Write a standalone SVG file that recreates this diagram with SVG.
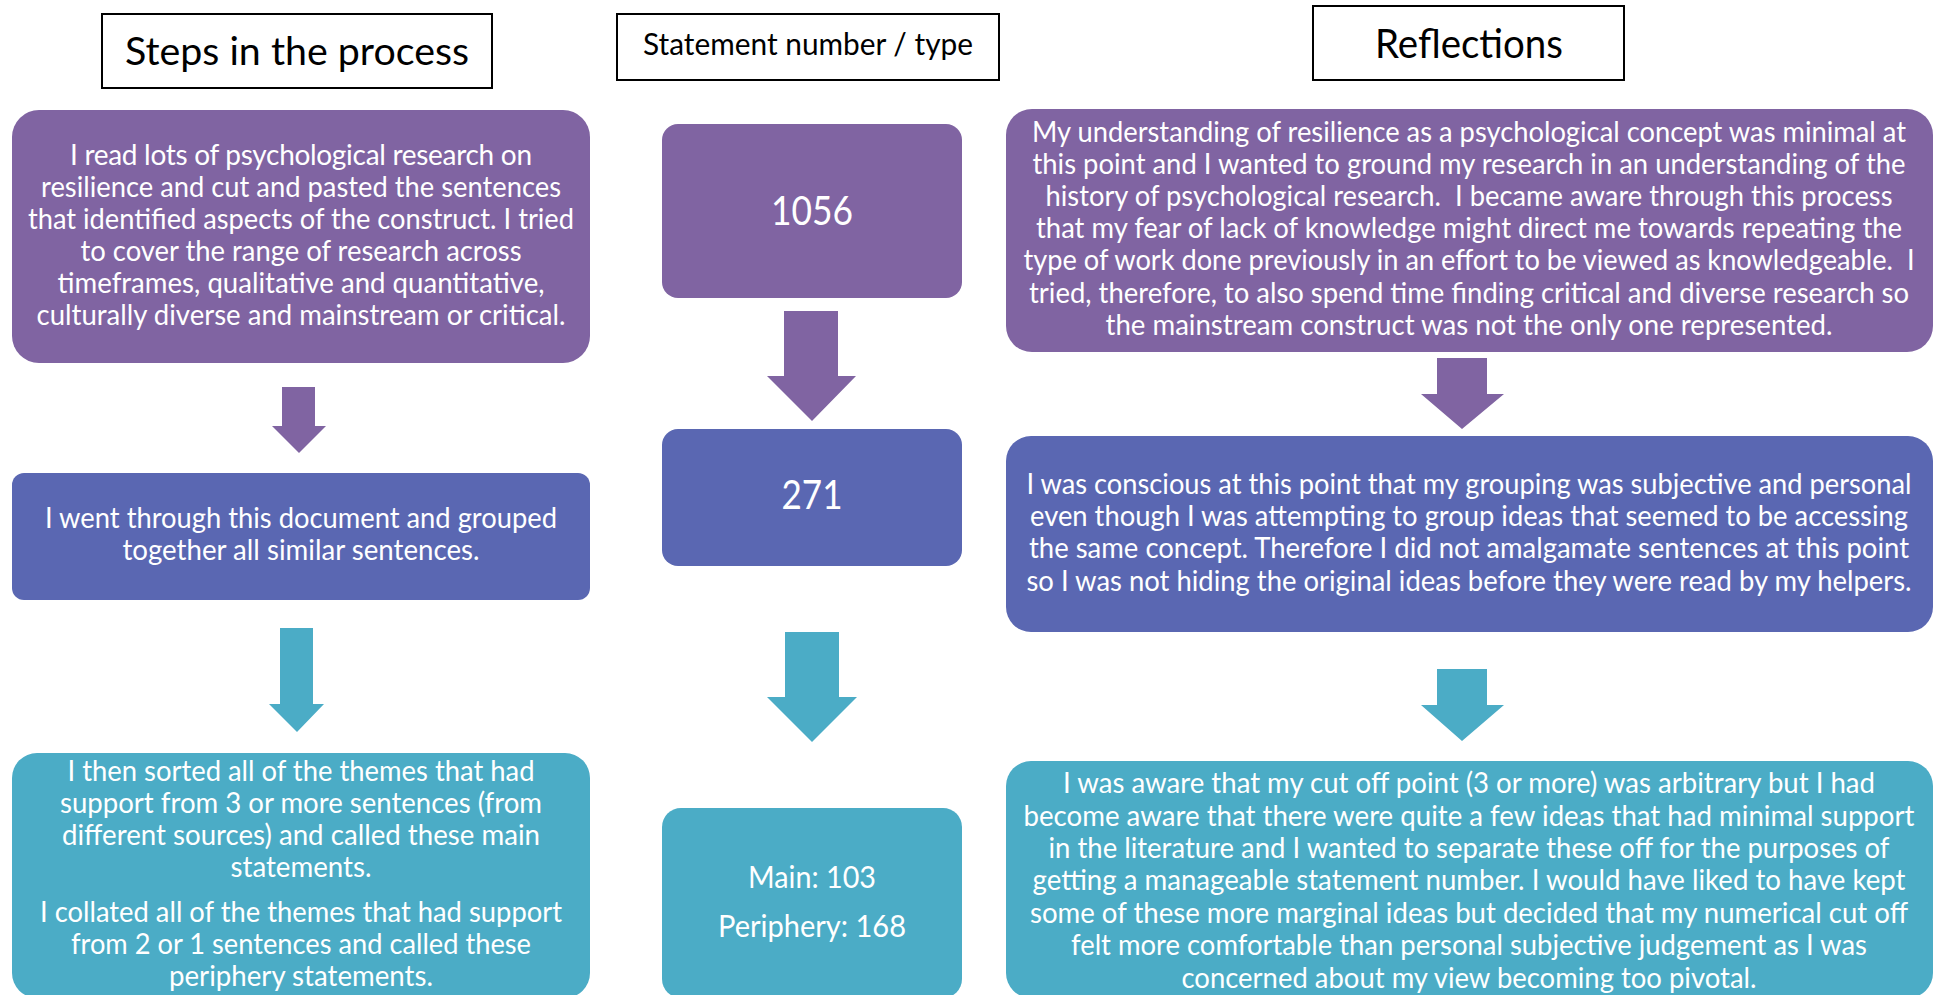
<svg xmlns="http://www.w3.org/2000/svg" width="1941" height="995" viewBox="0 0 1941 995">
<style>
.hdr{fill:#fff;stroke:#000;stroke-width:2}
.hdrt{font-family:Lato,"Liberation Sans",sans-serif;fill:#000;text-anchor:middle}
.t{font-family:Lato,"Liberation Sans",sans-serif;fill:#fff;text-anchor:middle;font-size:28px}
.n{font-family:Lato,"Liberation Sans",sans-serif;fill:#fff;text-anchor:middle;font-size:41px}
.m{font-family:Lato,"Liberation Sans",sans-serif;fill:#fff;text-anchor:middle;font-size:31px}
.pur{fill:#8064A2}
.blu{fill:#5A67B2}
.tea{fill:#4BACC6}
</style>
<rect width="1941" height="995" fill="#fff"/>
<g id="hdr-steps"><rect class="hdr" x="102" y="14" width="390" height="74"/><text class="hdrt" x="297" y="65" font-size="39" textLength="344" lengthAdjust="spacingAndGlyphs">Steps in the process</text></g>
<g id="hdr-statement"><rect class="hdr" x="617" y="14" width="382" height="66"/><text class="hdrt" x="808" y="55" font-size="30" textLength="330" lengthAdjust="spacingAndGlyphs">Statement number / type</text></g>
<g id="hdr-reflections"><rect class="hdr" x="1313" y="6" width="311" height="74"/><text class="hdrt" x="1469" y="58" font-size="40" textLength="188" lengthAdjust="spacingAndGlyphs">Reflections</text></g>

<g id="step1"><rect class="pur" x="12" y="110" width="578" height="253" rx="27"/>
<text class="t" lengthAdjust="spacingAndGlyphs"><tspan x="301" y="165" textLength="462">I read lots of psychological research on</tspan></text>
<text class="t"><tspan x="301" y="197" textLength="520" lengthAdjust="spacingAndGlyphs">resilience and cut and pasted the sentences</tspan></text>
<text class="t" x="301" y="229" textLength="546" lengthAdjust="spacingAndGlyphs">that identified aspects of the construct. I tried</text>
<text class="t" x="301" y="261" textLength="441" lengthAdjust="spacingAndGlyphs">to cover the range of research across</text>
<text class="t" x="301" y="293" textLength="487" lengthAdjust="spacingAndGlyphs">timeframes, qualitative and quantitative,</text>
<text class="t" x="301" y="325" textLength="529" lengthAdjust="spacingAndGlyphs">culturally diverse and mainstream or critical.</text></g>

<g id="step2"><rect class="blu" x="12" y="473" width="578" height="127" rx="12"/>
<text class="t" x="301" y="528" textLength="512" lengthAdjust="spacingAndGlyphs">I went through this document and grouped</text>
<text class="t" x="301" y="560" textLength="357" lengthAdjust="spacingAndGlyphs">together all similar sentences.</text></g>

<g id="step3"><rect class="tea" x="12" y="753" width="578" height="245" rx="25"/>
<text class="t" x="301" y="781" textLength="467" lengthAdjust="spacingAndGlyphs">I then sorted all of the themes that had</text>
<text class="t" x="301" y="813" textLength="482" lengthAdjust="spacingAndGlyphs">support from 3 or more sentences (from</text>
<text class="t" x="301" y="845" textLength="478" lengthAdjust="spacingAndGlyphs">different sources) and called these main</text>
<text class="t" x="301" y="877" textLength="141" lengthAdjust="spacingAndGlyphs">statements.</text>
<text class="t" x="301" y="922" textLength="522" lengthAdjust="spacingAndGlyphs">I collated all of the themes that had support</text>
<text class="t" x="301" y="954" textLength="460" lengthAdjust="spacingAndGlyphs">from 2 or 1 sentences and called these</text>
<text class="t" x="301" y="986" textLength="264" lengthAdjust="spacingAndGlyphs">periphery statements.</text></g>

<g id="num1"><rect class="pur" x="662" y="124" width="300" height="174" rx="16"/><text class="n" x="812" y="225" textLength="82" lengthAdjust="spacingAndGlyphs">1056</text></g>
<g id="num2"><rect class="blu" x="662" y="429" width="300" height="137" rx="16"/><text class="n" x="812" y="509" textLength="61" lengthAdjust="spacingAndGlyphs">271</text></g>
<g id="num3"><rect class="tea" x="662" y="808" width="300" height="190" rx="19"/>
<text class="m" x="812" y="888" textLength="128" lengthAdjust="spacingAndGlyphs">Main: 103</text>
<text class="m" x="812" y="937" textLength="188" lengthAdjust="spacingAndGlyphs">Periphery: 168</text></g>

<g id="refl1"><rect class="pur" x="1006" y="109" width="927" height="243" rx="26"/>
<text class="t" x="1469" y="142" textLength="874" lengthAdjust="spacingAndGlyphs">My understanding of resilience as a psychological concept was minimal at</text>
<text class="t" x="1469" y="174" textLength="873" lengthAdjust="spacingAndGlyphs">this point and I wanted to ground my research in an understanding of the</text>
<text class="t" x="1469" y="206" textLength="847" lengthAdjust="spacingAndGlyphs">history of psychological research.&#160; I became aware through this process</text>
<text class="t" x="1469" y="238" textLength="866" lengthAdjust="spacingAndGlyphs">that my fear of lack of knowledge might direct me towards repeating the</text>
<text class="t" x="1469" y="270" textLength="891" lengthAdjust="spacingAndGlyphs">type of work done previously in an effort to be viewed as knowledgeable.&#160; I</text>
<text class="t" x="1469" y="303" textLength="880" lengthAdjust="spacingAndGlyphs">tried, therefore, to also spend time finding critical and diverse research so</text>
<text class="t" x="1469" y="335" textLength="727" lengthAdjust="spacingAndGlyphs">the mainstream construct was not the only one represented.</text></g>

<g id="refl2"><rect class="blu" x="1006" y="436" width="927" height="196" rx="25"/>
<text class="t" x="1469" y="494" textLength="885" lengthAdjust="spacingAndGlyphs">I was conscious at this point that my grouping was subjective and personal</text>
<text class="t" x="1469" y="526" textLength="878" lengthAdjust="spacingAndGlyphs">even though I was attempting to group ideas that seemed to be accessing</text>
<text class="t" x="1469" y="558" textLength="880" lengthAdjust="spacingAndGlyphs">the same concept. Therefore I did not amalgamate sentences at this point</text>
<text class="t" x="1469" y="591" textLength="885" lengthAdjust="spacingAndGlyphs">so I was not hiding the original ideas before they were read by my helpers.</text></g>

<g id="refl3"><rect class="tea" x="1006" y="761" width="927" height="237" rx="25"/>
<text class="t" x="1469" y="793" textLength="812" lengthAdjust="spacingAndGlyphs">I was aware that my cut off point (3 or more) was arbitrary but I had</text>
<text class="t" x="1469" y="826" textLength="891" lengthAdjust="spacingAndGlyphs">become aware that there were quite a few ideas that had minimal support</text>
<text class="t" x="1469" y="858" textLength="841" lengthAdjust="spacingAndGlyphs">in the literature and I wanted to separate these off for the purposes of</text>
<text class="t" x="1469" y="890" textLength="873" lengthAdjust="spacingAndGlyphs">getting a manageable statement number. I would have liked to have kept</text>
<text class="t" x="1469" y="923" textLength="878" lengthAdjust="spacingAndGlyphs">some of these more marginal ideas but decided that my numerical cut off</text>
<text class="t" x="1469" y="955" textLength="796" lengthAdjust="spacingAndGlyphs">felt more comfortable than personal subjective judgement as I was</text>
<text class="t" x="1469" y="988" textLength="575" lengthAdjust="spacingAndGlyphs">concerned about my view becoming too pivotal.</text></g>

<g id="connectors">
<polygon class="pur" points="282,387 315,387 315,426 326,426 299,453 272,426 282,426"/>
<polygon class="tea" points="280,628 313,628 313,704 324,704 297,732 269,704 280,704"/>
<polygon class="pur" points="784,311 838,311 838,376 856,376 812,421 767,376 784,376"/>
<polygon class="tea" points="785,632 839,632 839,697 857,697 812,742 767,697 785,697"/>
<polygon class="pur" points="1437,358 1487,358 1487,394 1504,394 1462,429 1421,394 1437,394"/>
<polygon class="tea" points="1437,669 1487,669 1487,705 1504,705 1462,741 1421,705 1437,705"/>
</g>
</svg>
